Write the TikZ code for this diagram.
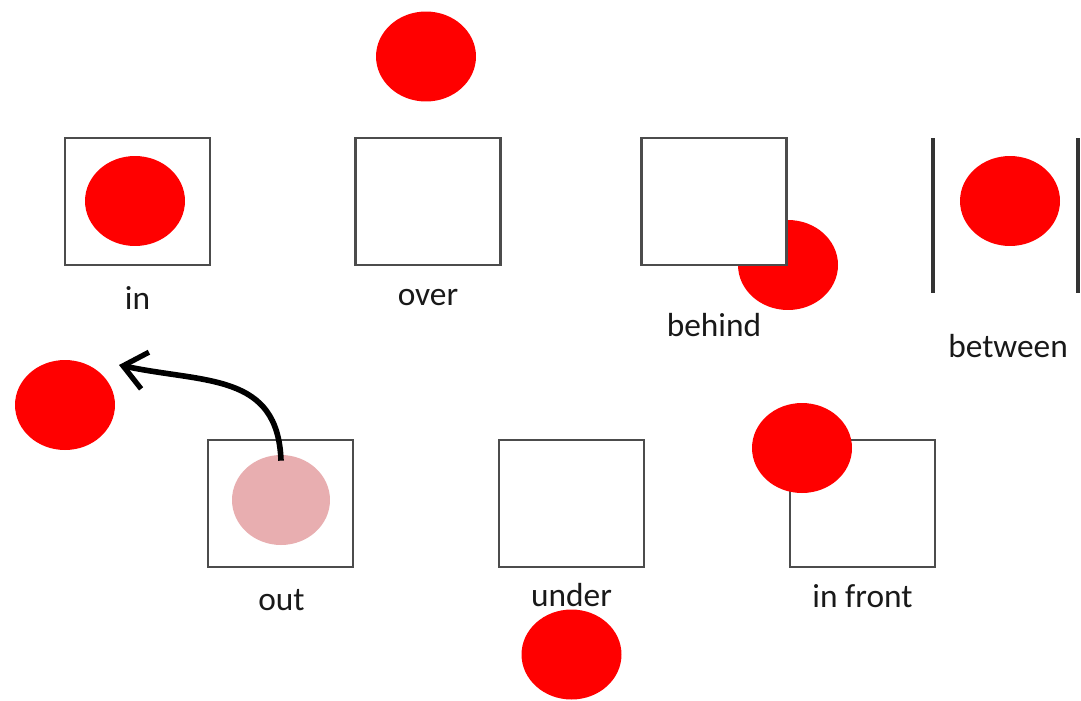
\documentclass[tikz,border=0pt]{standalone}
\usepackage{fontspec}
\setmainfont{Carlito}
\usetikzlibrary{arrows.meta, positioning, calc, shapes.geometric}

\begin{document}
\begin{tikzpicture}[
    x=0.02cm, y=-0.02cm,
    % Styles for the boxes, balls and words
    box_node/.style={rectangle, draw=black!70, line width=1.4pt, fill=white, minimum width=2.9cm, minimum height=2.54cm},
    ball_node/.style={ellipse, fill=red, minimum width=2cm, minimum height=1.8cm, inner sep=0pt},
    ghost_node/.style={ellipse, fill=pinkball, minimum width=1.96cm, minimum height=1.8cm, inner sep=0pt},
    word/.style={font=\fontsize{19}{22}\selectfont, text=black!90, inner sep=1pt},
    wall/.style={draw=black!80, line width=2.2pt}
]
    \definecolor{pinkball}{HTML}{E8AEB0}
    \useasboundingbox (0,0) rectangle (1081,700);

    % --- Top row ---
    \node[box_node] (inbox) at (137.5,201.5) {};
    \node[ball_node] (inball) at (135,201) {};
    \node[word] (inlbl) at ($(inbox) + (0,97)$) {in};

    \node[box_node] (overbox) at (428,201.5) {};
    \node[ball_node] (overball) at ($(overbox) + (-2,-145)$) {};
    \node[word] (overlbl) at ($(overbox) + (0,96)$) {over};

    % ball first, so the box hides it
    \node[ball_node] (behindball) at (788,265) {};
    \node[box_node] (behindbox) at (714,201.5) {};
    \node[word] (behindlbl) at ($(behindbox) + (0,124)$) {behind};

    \coordinate (wallAtop) at (933,138);
    \coordinate (wallAbot) at (933,293);
    \coordinate (wallBtop) at (1078,138);
    \coordinate (wallBbot) at (1078,293);
    \draw[wall] (wallAtop) -- (wallAbot);
    \draw[wall] (wallBtop) -- (wallBbot);
    \node[ball_node] (betweenball) at (1010,201) {};
    \node[word] (betweenlbl) at (1008,346) {between};

    % --- Bottom row ---
    \node[box_node] (outbox) at (280.5,503.5) {};
    \node[ghost_node] (outghost) at (281,500) {};
    \node[ball_node] (outball) at (65,405) {};
    \coordinate (outtip) at (119,365);
    \node[word] (outlbl) at ($(outbox) + (1,97)$) {out};
    \draw[-{Straight Barb[length=4.5mm, width=7.5mm, line width=3pt]}, line width=3.2pt]
        ($(outghost.north) + (0,6)$) to[out=92, in=-12, looseness=1.2] (outtip);

    \node[box_node] (underbox) at (571.5,503.5) {};
    \node[ball_node] (underball) at ($(underbox) + (0,151)$) {};
    \node[word] (underlbl) at ($(underbox) + (0,92)$) {under};

    \node[box_node] (frontbox) at (862.5,503.5) {};
    \node[ball_node] (frontball) at (802,448) {};
    \node[word] (frontlbl) at ($(frontbox) + (0,93)$) {in front};

\end{tikzpicture}
\end{document}
